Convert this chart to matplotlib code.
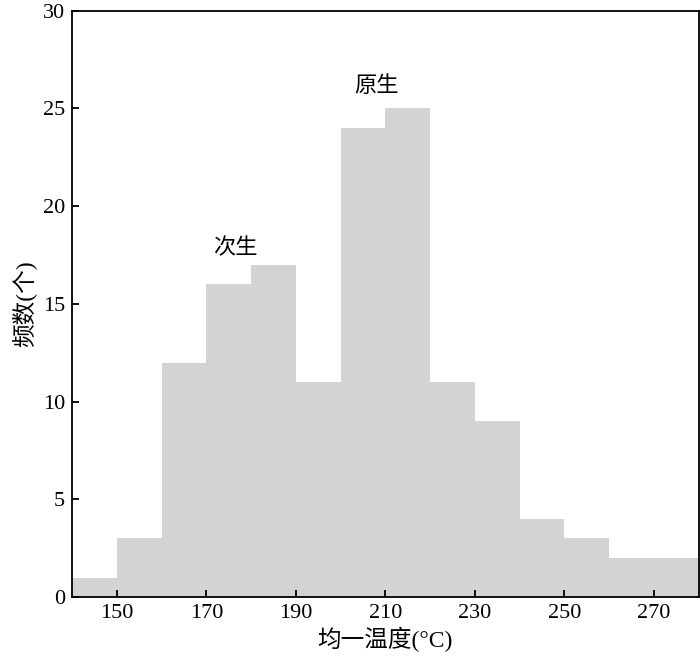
import matplotlib.pyplot as plt
import numpy as np

# bin edges (°C) and counts
bin_left = [140, 150, 160, 170, 180, 190, 200, 210, 220, 230, 240, 250, 260, 270]
counts = [1, 3, 12, 16, 17, 11, 24, 25, 11, 9, 4, 3, 2, 2]
xticks = [150, 170, 190, 210, 230, 250, 270]
yticks = [0, 5, 10, 15, 20, 25, 30]

plt.rcParams['font.family'] = ['Liberation Serif', 'Noto Sans CJK SC']
cjk = ['Noto Sans CJK SC', 'Liberation Serif']
mixed = ['Liberation Serif', 'Noto Sans CJK SC']

fig = plt.figure(figsize=(7, 6.62), dpi=100)
ax = fig.add_axes([0.103, 0.098, 0.895, 0.886])

ax.bar(bin_left, counts, width=10, align='edge', color='#d3d3d3', edgecolor='none')

ax.set_xlim(140, 280)
ax.set_ylim(0, 30)
ax.set_xticks(xticks)
ax.set_yticks(yticks)
ax.tick_params(direction='in', length=5, width=1.3, labelsize=16, pad=5)
for s in ax.spines.values():
    s.set_linewidth(1.3)

ax.text(176.5, 17.3, '次生', family=cjk, fontsize=16, ha='center', va='bottom')
ax.text(208, 25.6, '原生', family=cjk, fontsize=16, ha='center', va='bottom')

ax.set_xlabel('均一温度(°C)', family=mixed, fontsize=17, labelpad=3)
ax.set_ylabel('频数(个)', family=mixed, fontsize=17, labelpad=5)

fig.savefig('out.png', dpi=100)
